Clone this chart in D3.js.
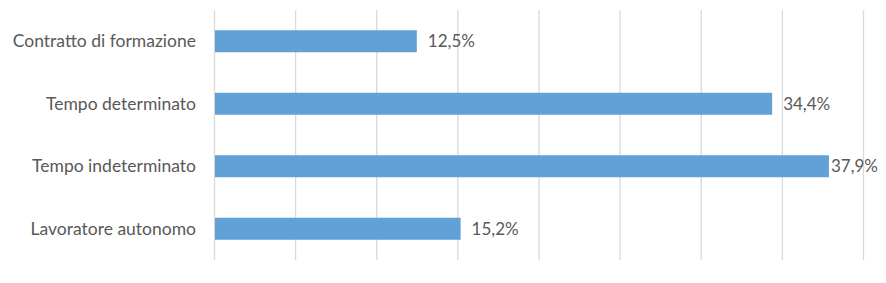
<!DOCTYPE html>
<html>
<head>
<meta charset="utf-8">
<script src="https://cdn.jsdelivr.net/npm/d3@7"></script>
<style>
  body { margin: 0; background: #fff; }
  text { font-family: Lato, "Open Sans", sans-serif; fill: #595959; }
  .grid line { stroke: #d9d9d9; stroke-width: 1.3; }
  .grid .domain { display: none; }
</style>
</head>
<body>
<div id="chart"></div>
<script>
// chart data
var categories = ["Contratto di formazione", "Tempo determinato", "Tempo indeterminato", "Lavoratore autonomo"];
var values = [12.5, 34.4, 37.9, 15.2];
var tickValues = [0, 5, 10, 15, 20, 25, 30, 35, 40];

// set the dimensions and margins of the graph
var margin = {top: 10, right: 23, bottom: 23, left: 214},
    width = 886 - margin.left - margin.right,
    height = 283 - margin.top - margin.bottom;

var x = d3.scaleLinear().domain([0, 40]).range([0, width]);
var y = d3.scaleBand().domain(categories).range([0, height])
    .paddingInner(0.648).paddingOuter(0.324);

var svg = d3.select("#chart").append("svg")
    .attr("width", width + margin.left + margin.right)
    .attr("height", height + margin.top + margin.bottom)
  .append("g")
    .attr("transform", "translate(" + margin.left + "," + margin.top + ")");

// vertical gridlines
svg.append("g")
    .attr("class", "grid")
    .call(d3.axisBottom(x)
        .tickValues(tickValues)
        .tickSize(height)
        .tickFormat(""));

// bars
svg.selectAll(".bar")
    .data(values)
  .enter().append("rect")
    .attr("class", "bar")
    .attr("x", x(0) + 1)
    .attr("y", function(d, i) { return y(categories[i]); })
    .attr("width", function(d) { return x(d) - x(0) - 1; })
    .attr("height", y.bandwidth())
    .attr("fill", "#62a1d8");

// category labels
svg.selectAll(".cat")
    .data(categories)
  .enter().append("text")
    .attr("class", "cat")
    .attr("x", -18)
    .attr("y", function(d) { return y(d) + y.bandwidth() / 2; })
    .attr("dy", "0.35em")
    .attr("text-anchor", "end")
    .style("font-size", "17.5px")
    .text(function(d) { return d; });

// value labels
var fmt = function(d) { return d.toFixed(1).replace(".", ",") + "%"; };
svg.selectAll(".val")
    .data(values)
  .enter().append("text")
    .attr("class", "val")
    .attr("y", function(d, i) { return y(categories[i]) + y.bandwidth() / 2; })
    .attr("dy", "0.35em")
    .style("font-size", "17px")
    .text(fmt)
    .attr("x", function(d) {
      var w = this.getComputedTextLength();
      return Math.min(x(d) + 11, width + margin.right - 8 - w);
    });
</script>
</body>
</html>
